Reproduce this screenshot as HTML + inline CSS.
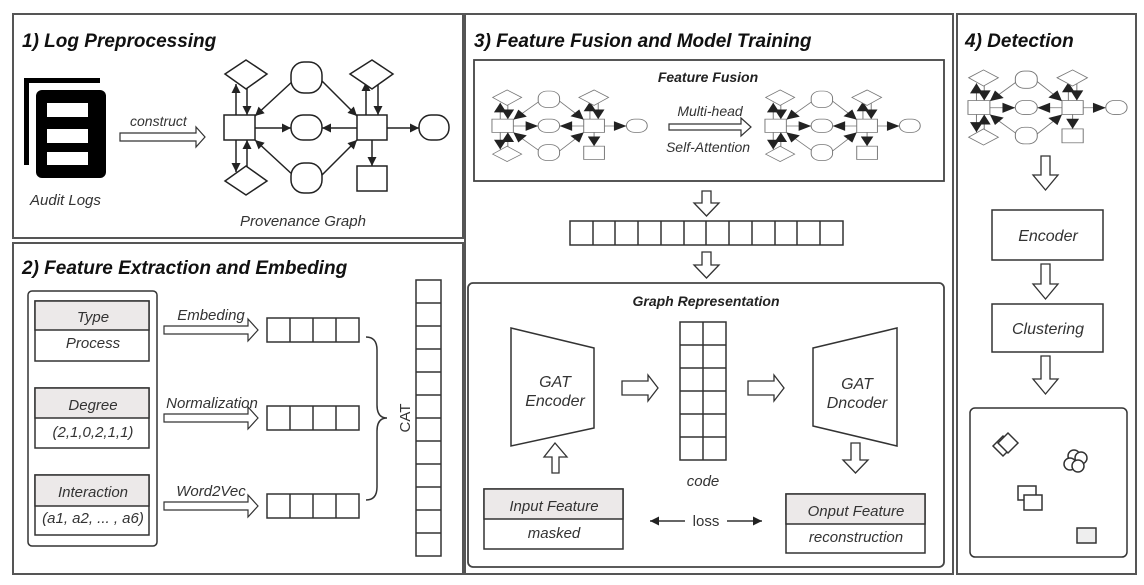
<!DOCTYPE html>
<html><head><meta charset="utf-8"><style>
body{margin:0;background:#fff}
svg{display:block}
text{font-family:"Liberation Sans",sans-serif;font-style:italic;fill:#333}
.t{font-weight:bold;fill:#111;font-size:19px}
.s{font-weight:bold;fill:#222;font-size:14px}
.n{font-style:normal}
</style></head><body>
<svg width="1144" height="585" viewBox="0 0 1144 585" xmlns="http://www.w3.org/2000/svg">
<defs>
<marker id="a" viewBox="0 0 10 10" refX="10" refY="5" markerWidth="7" markerHeight="6" orient="auto" markerUnits="strokeWidth"><path d="M0,0L10,5L0,10z" fill="#222"/></marker>
<marker id="as" viewBox="0 0 10 10" refX="10" refY="5" markerWidth="14" markerHeight="13" orient="auto" markerUnits="strokeWidth"><path d="M0,0L10,5L0,10z" fill="#222"/></marker>
<marker id="al" viewBox="0 0 10 10" refX="10" refY="5" markerWidth="6" markerHeight="6" orient="auto" markerUnits="strokeWidth"><path d="M0,0L10,5L0,10z" fill="#222"/></marker>
<g id="pg" fill="#fff">
 <line x1="236" y1="115" x2="236" y2="84"/><line x1="247" y1="80" x2="247" y2="115"/>
 <line x1="236" y1="140" x2="236" y2="172"/><line x1="247" y1="188" x2="247" y2="140"/>
 <line x1="294" y1="80" x2="255" y2="116"/><line x1="255" y1="128" x2="291" y2="128"/>
 <line x1="294" y1="176" x2="255" y2="140"/><line x1="321" y1="80" x2="357" y2="116"/>
 <line x1="357" y1="128" x2="322" y2="128"/><line x1="321" y1="176" x2="357" y2="140"/>
 <line x1="387" y1="128" x2="419" y2="128"/><line x1="372" y1="140" x2="372" y2="166"/>
 <line x1="366" y1="115" x2="366" y2="82"/><line x1="378" y1="78" x2="378" y2="115"/>
 <polygon style="marker-end:none" points="225,74 246,60 267,74 246,89"/>
 <polygon style="marker-end:none" points="225,181 246,166 267,181 246,195"/>
 <polygon style="marker-end:none" points="350,74 372,60 393,74 372,89"/>
 <rect x="224" y="115" width="31" height="25"/><rect x="357" y="115" width="30" height="25"/>
 <rect x="357" y="166" width="30" height="25"/>
 <rect x="291" y="62" width="31" height="31" rx="13"/><rect x="291" y="115" width="31" height="25" rx="12"/>
 <rect x="291" y="163" width="31" height="30" rx="13"/><rect x="419" y="115" width="30" height="25" rx="12"/>
</g>
</defs>
<g fill="none" stroke="#555" stroke-width="2">
<rect x="13" y="14" width="450" height="224"/>
<rect x="13" y="243" width="450" height="331"/>
<rect x="465" y="14" width="488" height="560"/>
<rect x="957" y="14" width="179" height="560"/>
</g>
<text class="t" x="22" y="47">1) Log Preprocessing</text>
<rect x="24" y="78" width="76" height="5" fill="#000"/><rect x="24" y="78" width="5" height="87" fill="#000"/>
<rect x="36" y="90" width="70" height="88" rx="6" fill="#000"/>
<rect x="47" y="103" width="41" height="14" fill="#fff"/><rect x="47" y="129" width="41" height="14" fill="#fff"/><rect x="47" y="152" width="41" height="13" fill="#fff"/>
<text x="30" y="205" font-size="15">Audit Logs</text>
<text x="130" y="126" font-size="14">construct</text>
<polygon points="120,133 196,133 196,127 205,137 196,147 196,141 120,141" fill="#fff" stroke="#333" stroke-width="1.2"/>
<use href="#pg" stroke="#222" stroke-width="1.5" style="marker-end:url(#a)"/>
<text x="240" y="226" font-size="15" fill="#444">Provenance Graph</text>
<text class="t" x="22" y="274">2)  Feature Extraction and Embeding</text>
<rect x="28" y="291" width="129" height="255" rx="4" fill="none" stroke="#333" stroke-width="1.5"/>
<g stroke="#333" stroke-width="1.5">
<rect x="35" y="301" width="114" height="60" fill="#fff"/><rect x="35" y="301" width="114" height="29" fill="#ece9e9"/>
<rect x="35" y="388" width="114" height="60" fill="#fff"/><rect x="35" y="388" width="114" height="30" fill="#ece9e9"/>
<rect x="35" y="475" width="114" height="60" fill="#fff"/><rect x="35" y="475" width="114" height="31" fill="#ece9e9"/>
</g>
<g font-size="15" text-anchor="middle">
<text x="93" y="322">Type</text><text x="93" y="348">Process</text>
<text x="93" y="410">Degree</text><text x="93" y="437">(2,1,0,2,1,1)</text>
<text x="93" y="497">Interaction</text><text x="93" y="523">(a1, a2, ... , a6)</text>
</g>
<g font-size="15" text-anchor="middle"><text x="211" y="320">Embeding</text><text x="212" y="408">Normalization</text><text x="211" y="496">Word2Vec</text></g>
<g fill="#fff" stroke="#333" stroke-width="1.2">
<polygon points="164,326 248,326 248,319 258,330 248,341 248,334 164,334"/>
<polygon points="164,414 248,414 248,407 258,418 248,429 248,422 164,422"/>
<polygon points="164,502 248,502 248,495 258,506 248,517 248,510 164,510"/>
</g>
<g fill="none" stroke="#333" stroke-width="1.5">
<rect x="267" y="318" width="92" height="24"/><path d="M290,318V342M313,318V342M336,318V342"/>
<rect x="267" y="406" width="92" height="24"/><path d="M290,406V430M313,406V430M336,406V430"/>
<rect x="267" y="494" width="92" height="24"/><path d="M290,494V518M313,494V518M336,494V518"/>
<path d="M366,337 Q377,337 377,350 V405 Q377,418 387,418 Q377,418 377,431 V487 Q377,500 366,500"/>
<rect x="416" y="280" width="25" height="276"/>
<path d="M416,303h25M416,326h25M416,349h25M416,372h25M416,395h25M416,418h25M416,441h25M416,464h25M416,487h25M416,510h25M416,533h25"/>
</g>
<text class="n" x="405" y="423" font-size="15" text-anchor="middle" transform="rotate(-90 405 418)">CAT</text>
<text class="t" x="474" y="47">3) Feature Fusion and Model Training</text>
<rect x="474" y="60" width="470" height="121" fill="none" stroke="#444" stroke-width="1.8"/>
<text class="s" x="708" y="82" text-anchor="middle">Feature Fusion</text>
<use href="#pg" transform="translate(337.4 58.2) scale(0.69 0.53)" stroke="#777" stroke-width="1.4" style="marker-end:url(#as)"/>
<use href="#pg" transform="translate(610.4 58.2) scale(0.69 0.53)" stroke="#777" stroke-width="1.4" style="marker-end:url(#as)"/>
<text x="710" y="116" font-size="14" text-anchor="middle">Multi-head</text>
<text x="708" y="152" font-size="14" text-anchor="middle">Self-Attention</text>
<polygon points="669,124 741,124 741,118 751,127 741,136 741,130 669,130" fill="#fff" stroke="#333" stroke-width="1.2"/>
<g fill="#fff" stroke="#333" stroke-width="1.3">
<polygon points="702,191 711,191 711,203 719,203 706.5,216 694,203 702,203"/>
<polygon points="702,252 711,252 711,265 719,265 706.5,278 694,265 702,265"/>
</g>
<g fill="none" stroke="#333" stroke-width="1.5">
<rect x="570" y="221" width="273" height="24"/>
<path d="M593,221v24M615,221v24M638,221v24M661,221v24M684,221v24M706,221v24M729,221v24M752,221v24M775,221v24M797,221v24M820,221v24"/>
<rect x="468" y="283" width="476" height="284" rx="5" stroke="#444" stroke-width="1.8"/>
<polygon points="511,328 594,348 594,428 511,446"/>
<polygon points="813,348 897,328 897,446 813,426"/>
<rect x="680" y="322" width="46" height="138"/>
<path d="M703,322v138M680,345h46M680,368h46M680,391h46M680,414h46M680,437h46"/>
</g>
<text class="s" x="706" y="306" text-anchor="middle">Graph Representation</text>
<g font-size="16" text-anchor="middle"><text x="555" y="387">GAT</text><text x="555" y="406">Encoder</text><text x="857" y="389">GAT</text><text x="857" y="408">Dncoder</text><text x="703" y="486" font-size="15">code</text></g>
<g fill="#fff" stroke="#333" stroke-width="1.3">
<polygon points="622,381 648,381 648,375 658,388 648,401 648,395 622,395"/>
<polygon points="748,381 774,381 774,375 784,388 774,401 774,395 748,395"/>
<polygon points="552,473 552,457 544,457 555,443 567,457 559,457 559,473"/>
<polygon points="851,443 860,443 860,460 868,460 855.5,473 843,460 851,460"/>
</g>
<g stroke="#333" stroke-width="1.5">
<rect x="484" y="489" width="139" height="60" fill="#fff"/><rect x="484" y="489" width="139" height="30" fill="#ece9e9"/>
<rect x="786" y="494" width="139" height="59" fill="#fff"/><rect x="786" y="494" width="139" height="30" fill="#ece9e9"/>
<line x1="685" y1="521" x2="650" y2="521" marker-end="url(#al)"/><line x1="727" y1="521" x2="762" y2="521" marker-end="url(#al)"/>
</g>
<g font-size="15" text-anchor="middle"><text x="554" y="511">Input Feature</text><text x="554" y="538">masked</text>
<text x="856" y="516">Onput Feature</text><text x="856" y="542">reconstruction</text><text class="n" x="706" y="526">loss</text></g>
<text class="t" x="965" y="47">4) Detection</text>
<use href="#pg" transform="translate(809.6 36.6) scale(0.707 0.556)" stroke="#777" stroke-width="1.4" style="marker-end:url(#as)"/>
<g fill="#fff" stroke="#333" stroke-width="1.3">
<polygon points="1041,156 1050,156 1050,175 1058,175 1045.5,190 1033,175 1041,175"/>
<polygon points="1041,264 1050,264 1050,284 1058,284 1045.5,299 1033,284 1041,284"/>
<polygon points="1041,356 1050,356 1050,379 1058,379 1045.5,394 1033,379 1041,379"/>
</g>
<g fill="none" stroke="#333" stroke-width="1.5">
<rect x="992" y="210" width="111" height="50"/><rect x="992" y="304" width="111" height="48"/>
<rect x="970" y="408" width="157" height="149" rx="5"/>
<polygon points="993,446 1003,436 1013,446 1003,456" fill="#fff"/><polygon points="998,443 1008,433 1018,443 1008,453" fill="#fff"/>
<circle cx="1074" cy="456" r="6" fill="#fff"/><circle cx="1081" cy="458" r="6" fill="#fff"/><circle cx="1070" cy="464" r="6" fill="#fff"/><circle cx="1078" cy="466" r="6" fill="#fff"/>
<rect x="1018" y="486" width="18" height="14" fill="#fff"/><rect x="1024" y="495" width="18" height="15" fill="#fff"/>
<rect x="1077" y="528" width="19" height="15" fill="#eee"/>
</g>
<g font-size="16" text-anchor="middle"><text x="1048" y="241">Encoder</text><text x="1048" y="334">Clustering</text></g>
</svg>
</body></html>
